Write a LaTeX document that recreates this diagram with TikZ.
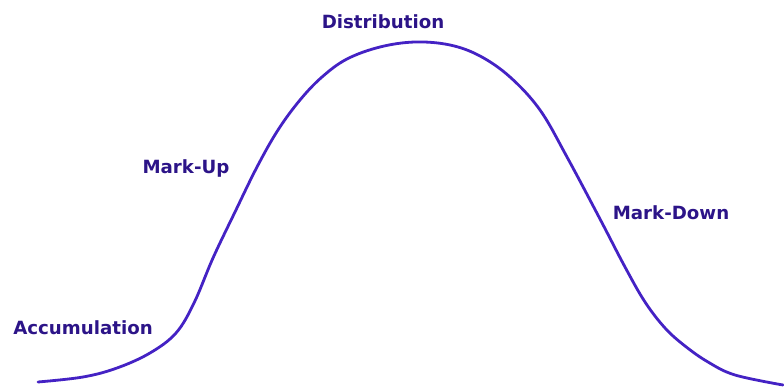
\documentclass[tikz,border=0pt]{standalone}
\usepackage{fontspec}
\setmainfont{DejaVu Sans}
\definecolor{curvecol}{HTML}{4422C4}
\definecolor{textcol}{HTML}{2C1488}
\begin{document}
\begin{tikzpicture}[x=1pt,y=-1pt,
  phase/.style={font=\bfseries\fontsize{18.2}{20}\selectfont, text=textcol, inner sep=0pt}]
\useasboundingbox (0,0) rectangle (784,387);
\draw[curvecol, line width=2.8pt, line cap=round, line join=round]
  plot[smooth, tension=0.6] coordinates {
  (38,382) (83,377) (117,368) (150,353) (176,333) (194,303)
  (213,258) (235,212) (257,167) (278,130) (300,100) (322,77)
  (347,59) (380,47) (415,42) (450,45) (480,56) (510,77)
  (540,110) (567,157) (600,219) (625,267) (645,302)
  (665,328) (685,346) (708,362) (735,375) (783,385)};
\node[phase] (acc) at (83,328) {Accumulation};
\node[phase] (up) at (186,168) {Mark-Up};
\node[phase] (dist) at (383,22) {Distribution};
\node[phase] (down) at (671,213) {Mark-Down};
\end{tikzpicture}
\end{document}
